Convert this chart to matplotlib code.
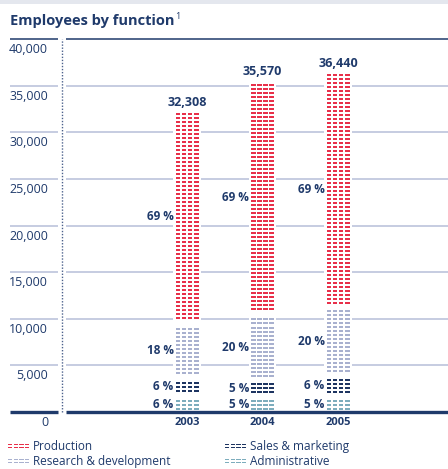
import numpy as np
import matplotlib
matplotlib.use("Agg")
import matplotlib.pyplot as plt
import matplotlib.transforms as mtransforms
from matplotlib.patches import Rectangle

plt.rcParams['font.family'] = ['Open Sans', 'DejaVu Sans']

# ---------------- data ----------------
years = ['2003', '2004', '2005']
totals = [32308, 35570, 36440]
functions = ['Administrative', 'Sales & marketing', 'Research & development', 'Production']  # bottom -> top
admin_pct = [6, 5, 5]
sales_pct = [6, 5, 6]
rnd_pct = [18, 20, 20]
prod_pct = [69, 69, 69]
y_ticks = [0, 5000, 10000, 15000, 20000, 25000, 30000, 35000, 40000]
y_tick_labels = ['0', '5,000', '10,000', '15,000', '20,000', '25,000', '30,000', '35,000', '40,000']
legend_order = ['Production', 'Sales & marketing', 'Research & development', 'Administrative']

# ---------------- style ----------------
NAVY = '#1f3a6b'
GRID = '#b7bfd8'
colors = {'Production': '#e8304a', 'Research & development': '#a9b1cf',
          'Sales & marketing': '#1d3461', 'Administrative': '#7dadbd'}
W, H = 448, 469
fig = plt.figure(figsize=(W / 100, H / 100), dpi=100)

def fx(px):
    return px / W

def fy(py):
    return 1 - py / H

ax_l, ax_r, ax_t, ax_b = 66, 448, 39, 412
ax = fig.add_axes([fx(ax_l), fy(ax_b), (ax_r - ax_l) / W, (ax_b - ax_t) / H])
x = np.arange(len(years))
unit_px = 75.5
ax.set_xlim((ax_l - 187) / unit_px, (ax_r - 187) / unit_px)
ax.set_ylim(0, 40000)
for s in ax.spines.values():
    s.set_visible(False)
ax.set_xticks([])
ax.set_yticks([])

# top gray band
fig.patches.append(Rectangle((0, fy(4)), 1, 4 / H, transform=fig.transFigure,
                             facecolor='#e4e7ee', edgecolor='none'))

# gridlines (right part full axes width, left part under tick labels)
ytr = ax.get_yaxis_transform()
left0 = (10 - ax_l) / (ax_r - ax_l)
left1 = (58 - ax_l) / (ax_r - ax_l)
for t in y_ticks:
    if t == 0:
        c, lw = NAVY, 2.4
    elif t == 40000:
        c, lw = NAVY, 1.1
    else:
        c, lw = GRID, 1.1
    z = 5 if t == 0 else 1
    ax.plot([0, 1], [t, t], transform=ytr, color=c, lw=lw, zorder=z, clip_on=False,
            solid_capstyle='butt')
    ax.plot([left0, left1], [t, t], transform=ytr, color=c, lw=lw, zorder=z, clip_on=False,
            solid_capstyle='butt')

# dotted vertical line
xd = (62 - ax_l) / (ax_r - ax_l)
ax.plot([xd, xd], [0, 40000], transform=ytr, color='#4d628d', lw=1.0, ls=(0, (1, 1.2)),
        clip_on=False, zorder=2)

# tick labels (hanging below the gridlines)
xl = (48 - ax_l) / (ax_r - ax_l)
lab_tr = mtransforms.offset_copy(ytr, fig=fig, x=0, y=-4, units='dots')
for t, lab in zip(y_ticks, y_tick_labels):
    ax.text(xl, t, lab, transform=lab_tr, ha='right', va='top', fontsize=9, color=NAVY)

# ---------------- bars ----------------
bar_w = 23 / unit_px
pitch = 430
dash_h = 0.5 * pitch
n_dash = 4
dash_gap = 1.6 / unit_px
dash_len = (bar_w - (n_dash - 1) * dash_gap) / n_dash

pct_table = {'Administrative': admin_pct, 'Sales & marketing': sales_pct,
             'Research & development': rnd_pct, 'Production': prod_pct}

# white background behind bars to break the gridlines
ax.bar(x, totals, width=bar_w + 2 * 2.4 / unit_px, bottom=0, color='white', zorder=2)

pct_lab_tr = mtransforms.offset_copy(ax.transData, fig=fig, x=-2, y=0, units='dots')
for i in range(len(years)):
    bottom = 0.0
    for j, f in enumerate(functions):
        top_seg = (j == len(functions) - 1)
        if top_seg:
            h = totals[i] - bottom
            n = int(np.floor(h / pitch - 0.05))
        else:
            h = totals[i] * pct_table[f][i] / 100.0
            n = int(np.floor(h / pitch - 0.6))
        x0 = x[i] - bar_w / 2
        xr = [(x0 + k * (dash_len + dash_gap), dash_len) for k in range(n_dash)]
        for k in range(n):
            yc = bottom + pitch * (k + 0.8)
            ax.broken_barh(xr, (yc - dash_h / 2, dash_h), facecolors=colors[f], zorder=3)
        yl = bottom + pitch * (0.8 + (n - 1) / 2)
        ax.text(x0, yl, f"{pct_table[f][i]} %", transform=pct_lab_tr, ha='right', va='center',
                fontsize=8.5, fontweight='bold', color=NAVY)
        bottom += h

# total labels and years
tot_tr = mtransforms.offset_copy(ax.transData, fig=fig, x=0, y=2, units='dots')
yr_tr = mtransforms.offset_copy(ax.transData, fig=fig, x=0, y=-5, units='dots')
for i in range(len(years)):
    ax.text(x[i], totals[i], f"{totals[i]:,}", transform=tot_tr, ha='center', va='bottom',
            fontsize=9, fontweight='bold', color=NAVY)
    ax.text(x[i], 0, years[i], transform=yr_tr, ha='center', va='top',
            fontsize=8, fontweight='bold', color=NAVY)

# ---------------- title ----------------
title = fig.text(fx(10), fy(25), 'Employees by function', fontsize=10.5, fontweight='bold',
                 color=NAVY, va='baseline')
fig.canvas.draw()
bb = title.get_window_extent()
fig.text(bb.x1 / W + 0.5 / W, fy(19), '1', fontsize=6.5, color=NAVY, va='baseline')

# ---------------- legend ----------------
leg_pos = {'Production': (8, 446), 'Sales & marketing': (225, 446),
           'Research & development': (8, 461), 'Administrative': (225, 461)}
for f in legend_order:
    lx, ly = leg_pos[f]
    for r, dy in enumerate([-1.5, 1.5]):
        for k in range(4):
            fig.patches.append(Rectangle((fx(lx + k * 5.6), fy(ly + dy + 0.6)), 4.4 / W, 1.3 / H,
                                         transform=fig.transFigure, facecolor=colors[f],
                                         edgecolor='none'))
    fig.text(fx(lx + 25), fy(ly), f, fontsize=8.5, color=NAVY, va='center', ha='left')

fig.savefig('out.png', dpi=100)
